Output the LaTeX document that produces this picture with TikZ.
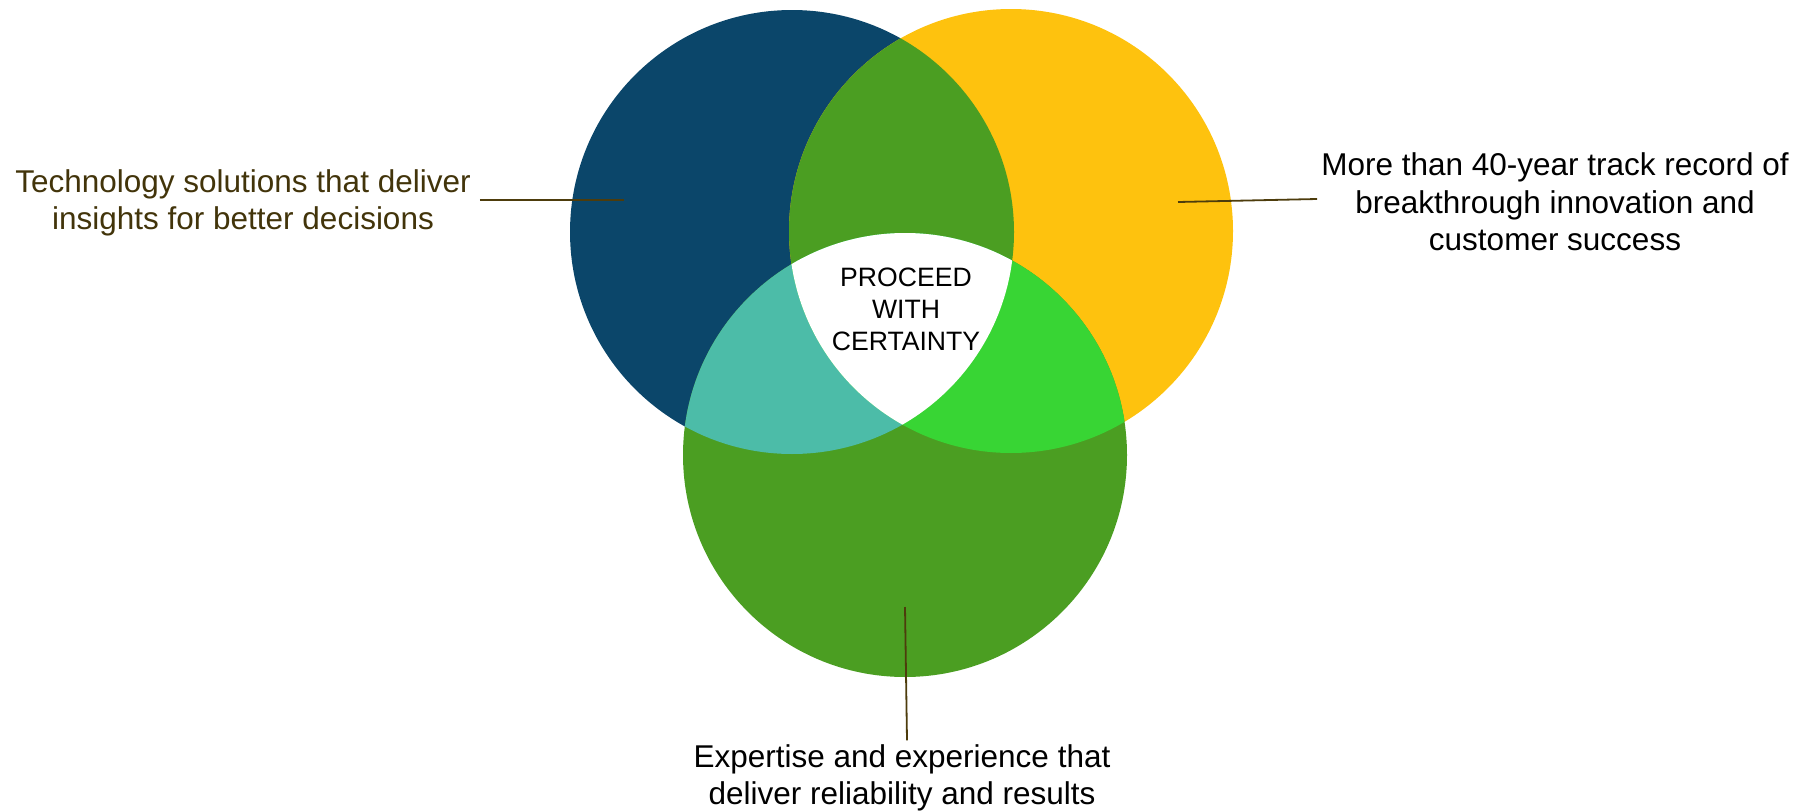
\documentclass[tikz,border=0pt]{standalone}
\usepackage{fontspec}
\setmainfont{Liberation Sans}
\definecolor{blueC}{RGB}{11,70,106}
\definecolor{yellowC}{RGB}{254,194,14}
\definecolor{greenC}{RGB}{75,158,34}
\definecolor{cyanC}{RGB}{76,188,168}
\definecolor{brightC}{RGB}{56,213,52}
\definecolor{brownT}{RGB}{66,52,10}
\definecolor{brownL}{RGB}{77,60,12}
\tikzset{
  label/.style={align=center, inner sep=4pt, font=\fontsize{31.5}{37.5}\selectfont},
  centre/.style={align=center, inner sep=0pt, font=\fontsize{26.6}{32}\selectfont},
  leader/.style={draw=brownL, line width=1.8pt}
}
\begin{document}
\begin{tikzpicture}[x=1pt,y=-1pt]
\useasboundingbox (0,0) rectangle (1812,811);
\coordinate (L) at (792,232);
\coordinate (R) at (1011,231);
\coordinate (B) at (905,455);
\fill[blueC] (L) circle (222pt);
\fill[yellowC] (R) circle (222pt);
\fill[greenC] (B) circle (222pt);
\begin{scope}
  \clip (L) circle (222pt);
  \fill[greenC] (R) circle (222pt);
  \fill[cyanC] (B) circle (222pt);
\end{scope}
\begin{scope}
  \clip (R) circle (222pt);
  \fill[brightC] (B) circle (222pt);
  \clip (L) circle (222pt);
  \fill[white] (B) circle (222pt);
\end{scope}
\node[centre] (core) at (906,309) {PROCEED\\WITH\\CERTAINTY};
\node[label, text=brownT] (ltext) at (243,203) {Technology solutions that deliver\\insights for better decisions};
\node[label] (rtext) at (1555,202) {More than 40-year track record of\\breakthrough innovation and\\customer success};
\node[label] (btext) at (902,778) {Expertise and experience that\\deliver reliability and results};
\coordinate (lend) at (624,200);
\coordinate (rend) at (1178,202);
\coordinate (bend) at (905,607);
\draw[leader] ([xshift=5pt]ltext.east |- lend) -- (lend);
\draw[leader] (rend) -- ([yshift=3pt]rtext.west);
\draw[leader] (bend) -- ([xshift=5pt]btext.north);
\end{tikzpicture}
\end{document}
